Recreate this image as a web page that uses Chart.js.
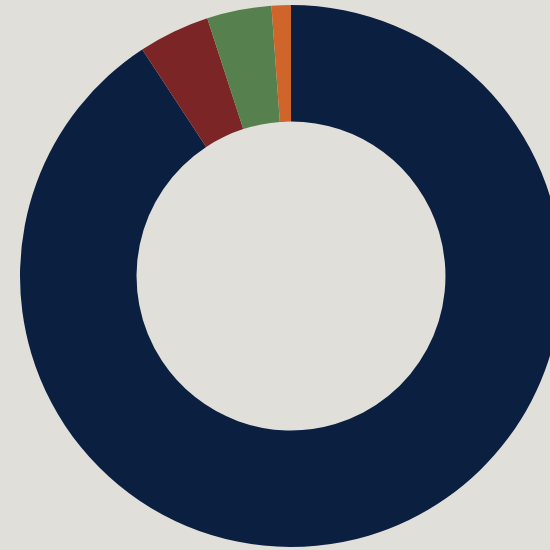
<!DOCTYPE html>
<html>
<head>
<meta charset="utf-8">
<script src="https://cdn.jsdelivr.net/npm/chart.js@4/dist/chart.umd.min.js"></script>
<style>
    html, body {
        margin: 0;
        padding: 0;
        width: 550px;
        height: 550px;
        overflow: hidden;
        background: #e1dfda;
    }
    .chart-box {
        position: absolute;
        left: 20px;
        top: 5px;
        width: 542px;
        height: 542px;
    }
</style>
</head>
<body>
<div class="chart-box">
    <canvas id="donutChart" width="542" height="542"></canvas>
</div>
<script>
// data (share of the ring, %)
const categories = ['Segment 1', 'Segment 2', 'Segment 3', 'Segment 4'];
const shares = [90.75, 4.25, 3.85, 1.15];
const sliceColors = ['#0b1f40', '#7b2526', '#56814f', '#d0652b'];

const ctx = document.getElementById('donutChart').getContext('2d');

const data = {
    labels: categories,
    datasets: [{
        data: shares,
        backgroundColor: sliceColors,
        borderWidth: 0,
        hoverOffset: 0
    }]
};

new Chart(ctx, {
    type: 'doughnut',
    data: data,
    options: {
        responsive: false,
        animation: false,
        cutout: '57%',
        plugins: {
            legend: { display: false },
            tooltip: { enabled: false }
        }
    }
});
</script>
</body>
</html>
